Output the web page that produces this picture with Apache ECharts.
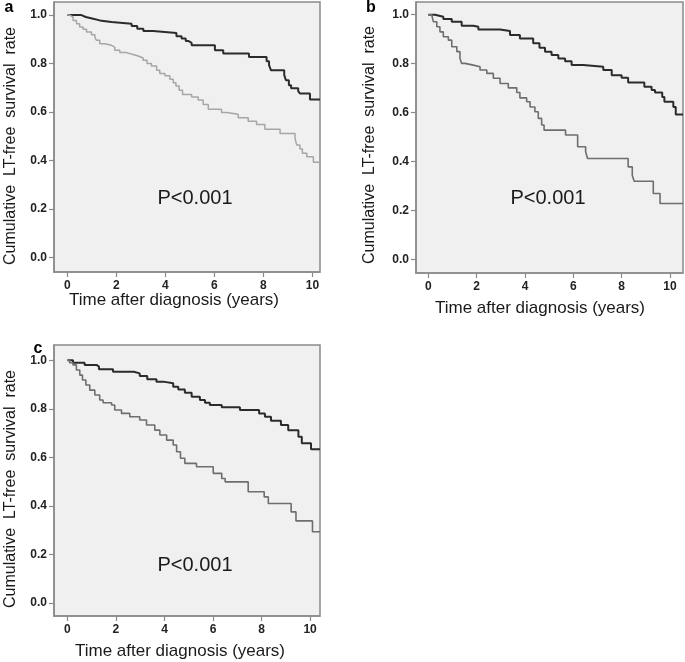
<!DOCTYPE html>
<html>
<head>
<meta charset="utf-8">
<script src="https://cdn.jsdelivr.net/npm/echarts@6/dist/echarts.min.js"></script>
<style>
html,body{margin:0;padding:0;background:#fff;}
#chart{width:685px;height:662px;}
</style>
</head>
<body>
<div id="chart"></div>
<script>
// ---------- data ----------
const xTicks = [0, 2, 4, 6, 8, 10];
const yTicks = [0.0, 0.2, 0.4, 0.6, 0.8, 1.0];
const panelLabels = ['a', 'b', 'c'];
const pText = 'P<0.001';
const xTitle = 'Time after diagnosis (years)';
const yTitle = 'Cumulative  LT-free  survival  rate';

// Panel a
const aHighT = [0,0.57,0.75,1.05,1.32,1.80,2.62,2.85,3.1,3.5,4.45,4.66,4.83,4.93,5.07,6.02,6.36,7.41,8.13,8.23,8.31,8.85,8.92,9.04,9.13,9.42,9.49,9.9,10.31];
const aHighS = [1.0,0.992,0.985,0.978,0.971,0.964,0.955,0.944,0.934,0.926,0.913,0.903,0.893,0.885,0.875,0.855,0.841,0.827,0.809,0.793,0.772,0.752,0.731,0.71,0.698,0.686,0.676,0.651,0.651];
const aLowT = [0,0.09,0.23,0.37,0.50,0.64,0.78,0.98,1.12,1.18,1.32,1.52,1.80,1.93,2.14,2.41,2.68,2.89,3.09,3.25,3.43,3.64,3.77,3.98,4.18,4.32,4.43,4.56,4.70,5.07,5.34,5.54,5.75,6.29,6.5,6.97,7.38,7.72,8.06,8.68,9.29,9.36,9.49,9.59,9.77,10.04,10.31];
const aLowS = [1.0,0.992,0.978,0.964,0.951,0.941,0.93,0.919,0.909,0.896,0.882,0.875,0.868,0.855,0.845,0.837,0.831,0.823,0.813,0.8,0.79,0.772,0.759,0.749,0.735,0.721,0.707,0.69,0.672,0.662,0.649,0.631,0.611,0.598,0.59,0.576,0.562,0.548,0.529,0.511,0.491,0.463,0.447,0.429,0.415,0.392,0.392];

// Panel b
const bHighT = [0,0.28,0.62,0.97,1.38,1.86,2.07,2.97,3.38,3.79,4.34,4.6,4.83,5.1,5.38,5.66,5.93,6.41,7.24,7.59,8.0,8.27,8.94,9.24,9.38,9.68,9.77,10.14,10.24,10.54];
const bHighS = [1.0,0.992,0.982,0.971,0.955,0.951,0.94,0.933,0.917,0.903,0.883,0.865,0.849,0.835,0.821,0.81,0.794,0.787,0.774,0.753,0.742,0.723,0.705,0.692,0.682,0.664,0.644,0.623,0.592,0.592];
const bLowT = [0,0.14,0.21,0.35,0.48,0.62,0.83,0.97,1.18,1.31,1.38,1.52,1.86,2.14,2.42,2.69,2.97,3.31,3.66,3.79,4.07,4.21,4.41,4.55,4.69,4.79,5.68,6.18,6.51,6.59,8.27,8.44,8.52,9.31,9.59,10.54];
const bLowS = [1.0,0.992,0.971,0.951,0.93,0.91,0.896,0.869,0.849,0.821,0.801,0.794,0.787,0.774,0.76,0.74,0.719,0.701,0.682,0.66,0.644,0.623,0.603,0.576,0.549,0.528,0.508,0.46,0.44,0.412,0.378,0.344,0.319,0.269,0.228,0.228];

// Panel c
const cHighT = [0,0.23,0.71,1.2,1.3,1.88,2.74,2.98,3.29,3.67,3.95,4.36,4.57,4.84,5.12,5.46,5.67,5.87,6.36,7.11,7.9,8.14,8.39,8.8,9.1,9.52,9.66,10.04,10.41];
const cHighS = [1.0,0.99,0.981,0.974,0.963,0.953,0.946,0.935,0.922,0.912,0.905,0.891,0.88,0.866,0.85,0.836,0.825,0.816,0.806,0.795,0.781,0.767,0.751,0.733,0.712,0.685,0.658,0.633,0.633];
const cLowT = [0,0.09,0.23,0.37,0.51,0.62,0.76,0.92,1.13,1.33,1.47,1.82,1.95,2.23,2.57,2.98,3.26,3.6,3.81,4.09,4.36,4.5,4.66,4.84,5.32,6.01,6.36,6.5,7.45,8.11,8.28,9.22,9.42,10.1,10.41];
const cLowS = [1.0,0.99,0.981,0.96,0.939,0.919,0.898,0.877,0.857,0.836,0.825,0.816,0.795,0.781,0.767,0.754,0.733,0.712,0.692,0.671,0.651,0.623,0.596,0.575,0.561,0.534,0.513,0.499,0.458,0.437,0.41,0.375,0.338,0.293,0.293];

// ---------- layout / style ----------
const grids = [
  {left: 54, top: 2, width: 266, height: 270},
  {left: 416, top: 2, width: 267, height: 271},
  {left: 54, top: 345, width: 266, height: 271}
];
const xRanges = [[-0.548, 10.31], [-0.51, 10.54], [-0.553, 10.41]];
const yRanges = [[-0.061, 1.054], [-0.056, 1.052], [-0.054, 1.063]];
const seriesSets = [
  [[aHighT, aHighS, '#2b2b2b', 2], [aLowT, aLowS, '#a6a6a6', 1.5]],
  [[bHighT, bHighS, '#2b2b2b', 2], [bLowT, bLowS, '#6e6e6e', 1.6]],
  [[cHighT, cHighS, '#2b2b2b', 2], [cLowT, cLowS, '#6e6e6e', 1.6]]
];
const FONT = 'Liberation Sans, Arial, sans-serif';
const frameColor = '#8a8a8a';

const option = {
  animation: false,
  backgroundColor: '#ffffff',
  grid: grids.map(g => Object.assign({show: true, backgroundColor: '#f0f0f0', borderColor: frameColor, borderWidth: 1.5, containLabel: false}, g)),
  xAxis: grids.map((g, i) => ({
    type: 'value', gridIndex: i, min: xRanges[i][0], max: xRanges[i][1],
    splitLine: {show: false},
    axisLine: {show: true, onZero: false, lineStyle: {color: frameColor, width: 1.5}},
    axisTick: {show: true, customValues: xTicks, length: 5, lineStyle: {color: frameColor, width: 1.2}},
    axisLabel: {customValues: xTicks, margin: 8, fontFamily: FONT, fontWeight: 'bold', fontSize: 12, color: '#222'}
  })),
  yAxis: grids.map((g, i) => ({
    type: 'value', gridIndex: i, min: yRanges[i][0], max: yRanges[i][1],
    splitLine: {show: false},
    axisLine: {show: true, onZero: false, lineStyle: {color: frameColor, width: 1.5}},
    axisTick: {show: true, customValues: yTicks, length: 5, lineStyle: {color: frameColor, width: 1.2}},
    axisLabel: {customValues: yTicks, margin: 7, fontFamily: FONT, fontWeight: 'bold', fontSize: 12, color: '#222',
      formatter: v => v.toFixed(1)}
  })),
  series: [],
  graphic: []
};

seriesSets.forEach((set, i) => {
  set.forEach(([T, S, color, w]) => {
    option.series.push({
      type: 'line', xAxisIndex: i, yAxisIndex: i, step: 'end', showSymbol: false, symbol: 'none',
      lineStyle: {color: color, width: w}, data: T.map((t, k) => [t, S[k]]), z: 3
    });
  });
});

const xTitlePos = [[174, 300], [540, 308], [180, 651]];
const yTitlePos = [[11, 146], [370, 145], [11, 489]];
const pPos = [[195, 198], [548, 198], [195, 565]];
const letterPos = [[9, 8], [371, 8], [38, 349]];

for (let i = 0; i < 3; i++) {
  option.graphic.push({type: 'text', x: xTitlePos[i][0], y: xTitlePos[i][1],
    style: {text: xTitle, font: '17px ' + FONT, fill: '#1a1a1a', textAlign: 'center', textVerticalAlign: 'middle'}});
  option.graphic.push({type: 'text', x: yTitlePos[i][0], y: yTitlePos[i][1], rotation: Math.PI / 2,
    style: {text: yTitle, font: '16px ' + FONT, fill: '#1a1a1a', textAlign: 'center', textVerticalAlign: 'middle'}});
  option.graphic.push({type: 'text', x: pPos[i][0], y: pPos[i][1], z: 10,
    style: {text: pText, font: '20px ' + FONT, fill: '#1a1a1a', textAlign: 'center', textVerticalAlign: 'middle'}});
  option.graphic.push({type: 'text', x: letterPos[i][0], y: letterPos[i][1],
    style: {text: panelLabels[i], font: 'bold 16px ' + FONT, fill: '#000', textAlign: 'center', textVerticalAlign: 'middle'}});
}

const chart = echarts.init(document.getElementById('chart'), null, {renderer: 'canvas'});
chart.setOption(option);
</script>
</body>
</html>
